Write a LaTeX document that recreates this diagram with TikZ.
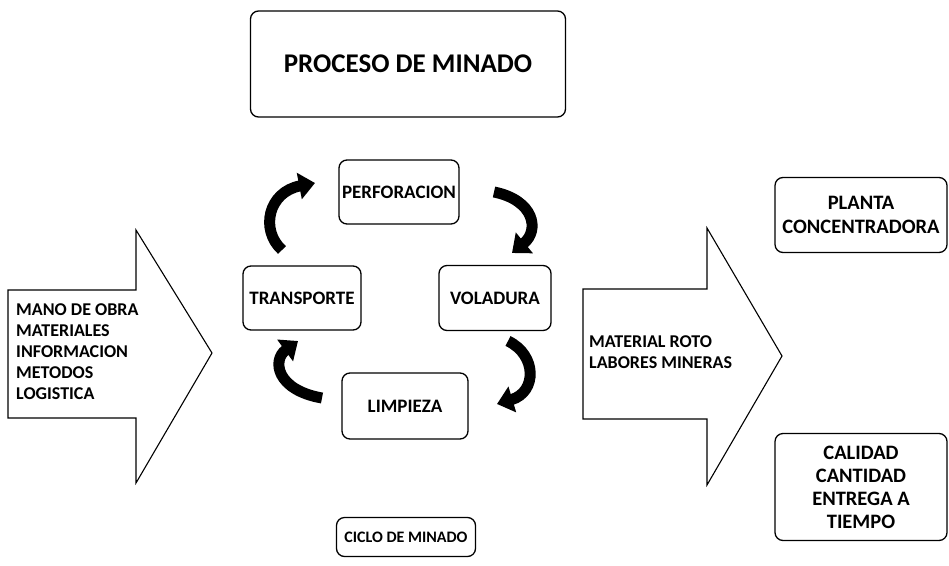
\documentclass[tikz,border=0pt]{standalone}
\usepackage{fontspec}
\setmainfont{Carlito}
\usetikzlibrary{arrows.meta}
\tikzset{
  box/.style={draw=black, line width=1.3pt, rounded corners=8pt, align=center, font=\bfseries, inner sep=0pt},
  cyc/.style={line width=11pt, -{Triangle[width=26pt,length=16pt]}},
  bigarrow/.style={draw=black, line width=1.1pt},
  cycfont/.style={font=\bfseries\fontsize{19}{22}\selectfont},
  lbl/.style={align=left, font=\bfseries\fontsize{18}{21}\selectfont, inner sep=0pt, anchor=west}
}
\begin{document}
\begin{tikzpicture}[x=1pt,y=-1pt]
\useasboundingbox (0,0) rectangle (949,565);
% main title
\node[box, minimum width=315pt, minimum height=106pt, font=\bfseries\fontsize{27}{30}\selectfont] (proc) at (408,64) {PROCESO DE MINADO};
% cycle boxes
\node[box, cycfont, minimum width=120pt, minimum height=64pt] (perf) at (399,192) {PERFORACION};
\node[box, cycfont, minimum width=118pt, minimum height=64pt] (trans) at (302,298) {TRANSPORTE};
\node[box, cycfont, minimum width=112pt, minimum height=65pt] (vol) at (495,298) {VOLADURA};
\node[box, cycfont, minimum width=126pt, minimum height=66pt] (limp) at (405,406) {LIMPIEZA};
% right boxes
\node[box, minimum width=172pt, minimum height=75pt, font=\bfseries\fontsize{20.5}{24}\selectfont] (planta) at (861,215) {PLANTA\\CONCENTRADORA};
\node[box, minimum width=172pt, minimum height=107pt, font=\bfseries\fontsize{20.5}{23}\selectfont] (calidad) at (861,487) {CALIDAD\\CANTIDAD\\ENTREGA A\\TIEMPO};
\node[box, minimum width=139pt, minimum height=39pt, font=\bfseries\fontsize{16}{18}\selectfont] (ciclo) at (406,537) {CICLO DE MINADO};
% curved arrows
\coordinate (a1s) at (282,250); \coordinate (a1e) at (315,183);
\coordinate (a2s) at (494,192); \coordinate (a2e) at (512,253);
\coordinate (a3s) at (508,341); \coordinate (a3e) at (497,404);
\coordinate (a4s) at (322,398); \coordinate (a4e) at (298,341);
\draw[cyc] (a1s) .. controls (260,230) and (268,192) .. (a1e);
\draw[cyc] (a2s) .. controls (534,200) and (540,230) .. (a2e);
\draw[cyc] (a3s) .. controls (537,355) and (537,392) .. (a3e);
\draw[cyc] (a4s) .. controls (276,390) and (272,360) .. (a4e);
% big block arrows
\draw[bigarrow] (8,290) -- (136,290) -- (136,230) -- (212,353) -- (136,483) -- (136,418) -- (8,418) -- cycle;
\draw[bigarrow] (583,289) -- (707,289) -- (707,228) -- (782,356) -- (707,485) -- (707,419) -- (583,419) -- cycle;
\node[lbl] (inputs) at (16,352) {MANO DE OBRA\\MATERIALES\\INFORMACION\\METODOS\\LOGISTICA};
\node[lbl] (outputs) at (589,352) {MATERIAL ROTO\\LABORES MINERAS};
\end{tikzpicture}
\end{document}
